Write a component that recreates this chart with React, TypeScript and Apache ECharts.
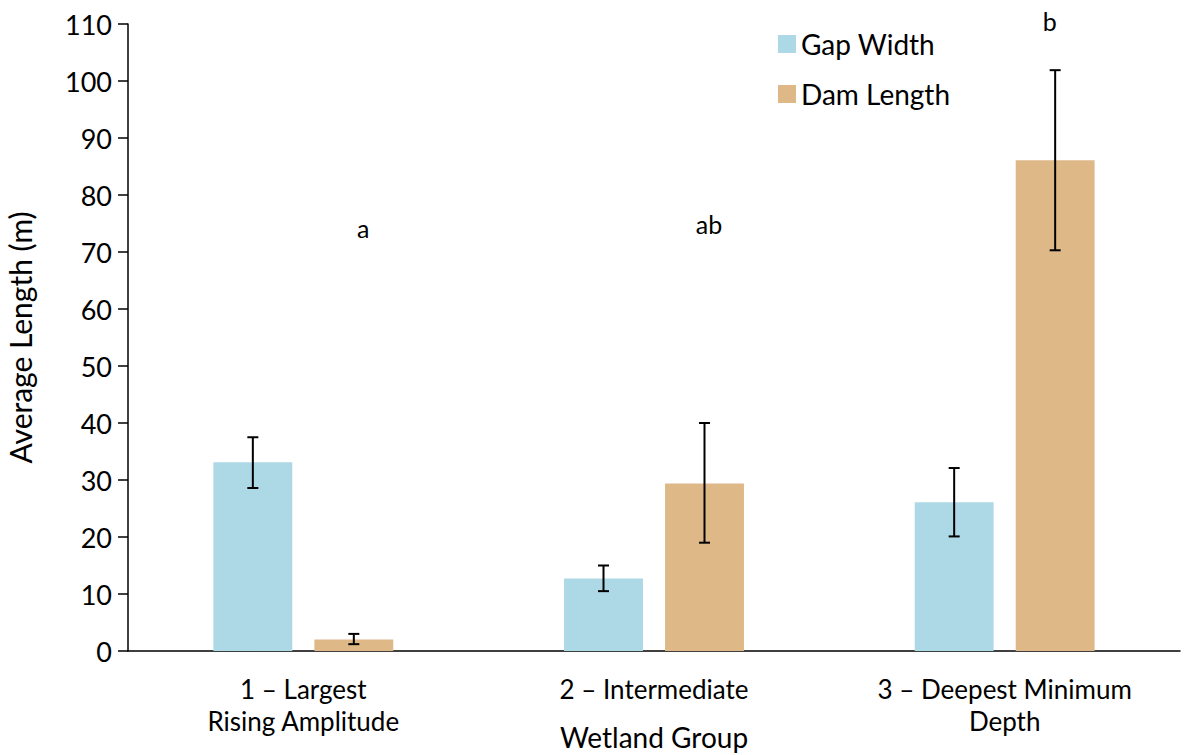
import React, { useEffect, useRef } from "react";
import * as echarts from "echarts";

const categories = ["1 – Largest\nRising Amplitude", "2 – Intermediate", "3 – Deepest Minimum\nDepth"];
const seriesNames = ["Gap Width", "Dam Length"];
const gapWidth = [33.1, 12.7, 26.1];
const gapLow = [28.6, 10.5, 20.1];
const gapHigh = [37.5, 15.0, 32.1];
const damLength = [2.0, 29.4, 86.1];
const damLow = [1.2, 19.0, 70.3];
const damHigh = [3.0, 40.0, 101.9];
const letters = ["a", "ab", "b"];
const letterValues = [74.2, 74.9, 110.6];

const FONT = "Lato";
const BAR_W = 0.225;
const BAR_GAP = 0.28;
const LETTER_OFFSETS = [60, 55, 45];

export default function App() {
  const ref = useRef<HTMLDivElement>(null);
  useEffect(() => {
    const chart = echarts.init(ref.current!, null, { renderer: "svg" });
    const offsetFrac = (BAR_W * (1 + BAR_GAP)) / 2;
    const errSeries = (low: number[], high: number[], sign: number) => ({
      type: "custom",
      z: 10,
      silent: true,
      data: low.map((l, i) => [i, l, high[i]]),
      renderItem: (params: any, api: any) => {
        const band = api.size([1, 0])[0];
        const off = sign * band * offsetFrac;
        const lo = api.coord([api.value(0), api.value(1)]);
        const hi = api.coord([api.value(0), api.value(2)]);
        const x = lo[0] + off;
        const cap = 5.5;
        const style = { stroke: "#000", lineWidth: 2 };
        return {
          type: "group",
          children: [
            { type: "line", shape: { x1: x, y1: lo[1], x2: x, y2: hi[1] }, style },
            { type: "line", shape: { x1: x - cap, y1: lo[1], x2: x + cap, y2: lo[1] }, style },
            { type: "line", shape: { x1: x - cap, y1: hi[1], x2: x + cap, y2: hi[1] }, style },
          ],
        };
      },
    });
    chart.setOption({
      animation: false,
      textStyle: { fontFamily: FONT },
      grid: { left: 128, right: 5, top: 24, bottom: 104, outerBoundsMode: "none", containLabel: false },
      legend: {
        orient: "vertical",
        left: 773,
        top: 25,
        itemWidth: 18,
        itemHeight: 18,
        itemGap: 22,
        icon: "rect",
        textStyle: { fontSize: 28, lineHeight: 28, color: "#000", fontFamily: FONT },
        data: seriesNames,
      },
      xAxis: {
        type: "category",
        data: categories,
        name: "Wetland Group",
        nameLocation: "middle",
        nameGap: 72,
        nameMoveOverlap: false,
        nameTextStyle: { fontSize: 28, color: "#000", fontFamily: FONT },
        axisLine: { lineStyle: { color: "#000", width: 1.5 } },
        axisTick: { length: 10, lineStyle: { color: "#000", width: 1.5 } },
        axisLabel: { fontSize: 26, color: "#000", lineHeight: 32, margin: 22, interval: 0, fontFamily: FONT },
      },
      yAxis: {
        type: "value",
        min: 0,
        max: 110,
        interval: 10,
        name: "Average Length (m)",
        nameLocation: "middle",
        nameGap: 93,
        nameMoveOverlap: false,
        nameTextStyle: { fontSize: 30, color: "#000", fontFamily: FONT },
        axisLine: { show: true, lineStyle: { color: "#000", width: 1.5 } },
        axisTick: { show: true, length: 10, lineStyle: { color: "#000", width: 1.5 } },
        axisLabel: { fontSize: 27, color: "#000", margin: 16, fontFamily: FONT },
        splitLine: { show: false },
      },
      series: [
        {
          name: seriesNames[0],
          type: "bar",
          data: gapWidth,
          barWidth: BAR_W * 100 + "%",
          barGap: BAR_GAP * 100 + "%",
          itemStyle: { color: "#ADD8E6" },
        },
        {
          name: seriesNames[1],
          type: "bar",
          data: damLength,
          barWidth: BAR_W * 100 + "%",
          barGap: BAR_GAP * 100 + "%",
          itemStyle: { color: "#DEB887" },
        },
        errSeries(gapLow, gapHigh, -1),
        errSeries(damLow, damHigh, 1),
        {
          type: "scatter",
          clip: false,
          symbolSize: 2,
          silent: true,
          itemStyle: { color: "rgba(0,0,0,0)" },
          data: letters.map((t, i) => ({
            value: [i, letterValues[i]],
            name: t,
            label: { offset: [LETTER_OFFSETS[i], 0] },
          })),
          label: {
            show: true,
            position: "inside",
            formatter: (p: any) => p.name,
            fontSize: 25,
            color: "#000",
            opacity: 1,
            textBorderWidth: 0,
            fontFamily: FONT,
          },
        },
      ],
    });
    return () => chart.dispose();
  }, []);
  return <div ref={ref} style={{ width: 1185, height: 755, position: "absolute", left: 0, top: 0 }} />;
}
